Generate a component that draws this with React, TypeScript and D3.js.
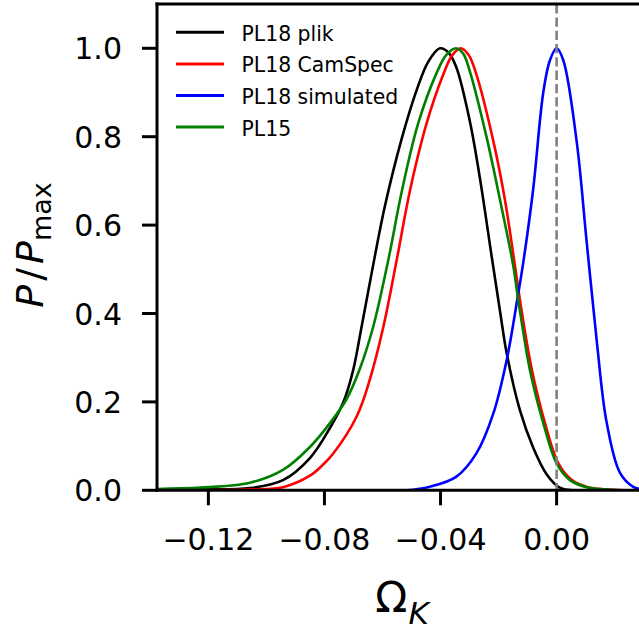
import React from "react";
import * as d3 from "d3";

type Pt = [number, number];

const plik: Pt[] = [
  [-0.1377, 0.001], [-0.1228, 0.002], [-0.1057, 0.005], [-0.0943, 0.023], [-0.085, 0.073],
  [-0.0781, 0.141], [-0.0735, 0.199], [-0.0701, 0.272], [-0.0672, 0.37], [-0.0632, 0.51],
  [-0.0592, 0.642], [-0.0534, 0.795], [-0.0482, 0.906], [-0.0442, 0.97], [-0.0402, 1.0],
  [-0.0372, 0.99], [-0.0345, 0.956], [-0.0299, 0.835], [-0.0264, 0.705], [-0.0224, 0.53],
  [-0.0195, 0.405], [-0.0172, 0.31], [-0.0126, 0.18], [-0.0081, 0.097], [-0.0034, 0.036],
  [0.0011, 0.006], [0.006, 0.0], [0.0308, 0.0],
];

const camspec: Pt[] = [
  [-0.1377, 0.0], [-0.1057, 0.002], [-0.0943, 0.007], [-0.085, 0.033], [-0.0805, 0.058],
  [-0.0771, 0.082], [-0.0689, 0.167], [-0.0643, 0.252], [-0.0597, 0.37], [-0.0551, 0.521],
  [-0.0505, 0.679], [-0.0448, 0.83], [-0.0391, 0.94], [-0.036, 0.984], [-0.0331, 1.0],
  [-0.0303, 0.985], [-0.0276, 0.94], [-0.0218, 0.79], [-0.0178, 0.657], [-0.0144, 0.51],
  [-0.0121, 0.408], [-0.0086, 0.275], [-0.004, 0.152], [0.0006, 0.061], [0.0053, 0.023],
  [0.0108, 0.007], [0.0166, 0.002], [0.0235, 0.0], [0.0308, 0.0],
];

const simulated: Pt[] = [
  [-0.1377, 0.0], [-0.0517, 0.0], [-0.0437, 0.008], [-0.0345, 0.031], [-0.0276, 0.084],
  [-0.0218, 0.174], [-0.0172, 0.295], [-0.0132, 0.446], [-0.0115, 0.515], [-0.0081, 0.68],
  [-0.0046, 0.9], [-0.0023, 0.973], [0.0, 1.0], [0.0023, 0.973], [0.0069, 0.79],
  [0.0103, 0.566], [0.0138, 0.34], [0.0172, 0.155], [0.0218, 0.04], [0.0264, 0.008],
  [0.0308, 0.001],
];

const pl15: Pt[] = [
  [-0.1377, 0.003], [-0.1228, 0.006], [-0.1057, 0.017], [-0.0943, 0.046], [-0.085, 0.098],
  [-0.0781, 0.152], [-0.0724, 0.206], [-0.0678, 0.275], [-0.0632, 0.37], [-0.058, 0.521],
  [-0.0534, 0.675], [-0.0477, 0.83], [-0.0413, 0.945], [-0.038, 0.985], [-0.0347, 1.0],
  [-0.0322, 0.988], [-0.0299, 0.948], [-0.0241, 0.798], [-0.0195, 0.657], [-0.015, 0.51],
  [-0.0132, 0.43], [-0.0092, 0.272], [-0.0046, 0.152], [0.0, 0.061], [0.0046, 0.023],
  [0.0103, 0.007], [0.0149, 0.003], [0.022, 0.0], [0.0308, 0.0],
];

const seriesNames = ["PL18 plik", "PL18 CamSpec", "PL18 simulated", "PL15"];
const seriesColors = ["#000000", "#ff0000", "#0000ff", "#008000"];
const seriesData = [plik, camspec, simulated, pl15];

const xTicks = [-0.12, -0.08, -0.04, 0.0];
const yTicks = [0.0, 0.2, 0.4, 0.6, 0.8, 1.0];
const xDomain: [number, number] = [-0.1377, 0.0308];
const yDomain: [number, number] = [0, 1.1];

const W = 639;
const H = 631;
const left = 157;
const right = 646;
const top = 4.1;
const bottom = 490.3;

const font = "'DejaVu Sans', sans-serif";

function fmtX(v: number) {
  const s = Math.abs(v).toFixed(2);
  return v < 0 ? "\u2212" + s : s;
}

export default function App() {
  const x = d3.scaleLinear().domain(xDomain).range([left, right]);
  const y = d3.scaleLinear().domain(yDomain).range([bottom, top]);
  const line = d3
    .line<Pt>()
    .x((d) => x(d[0]))
    .y((d) => y(Math.max(0, d[1])))
    .curve(d3.curveCatmullRom.alpha(0.5));

  const lw = 2.6;
  const legY0 = 32.3;
  const legDy = 31.6;

  return (
    <svg
      width={W}
      height={H}
      style={{ position: "absolute", left: 0, top: 0, background: "#fff" }}
      fontFamily={font}
    >
      <rect x={0} y={0} width={W} height={H} fill="#fff" />
      <defs>
        <clipPath id="plotclip">
          <rect x={left} y={top} width={right - left} height={bottom - top} />
        </clipPath>
      </defs>
      <g clipPath="url(#plotclip)">
        {seriesData.map((d, i) => (
          <path key={i} d={line(d) || ""} fill="none" stroke={seriesColors[i]} strokeWidth={lw} />
        ))}
        <line
          x1={x(0)}
          x2={x(0)}
          y1={top}
          y2={bottom}
          stroke="#808080"
          strokeWidth={lw}
          strokeDasharray="9.3,4"
        />
      </g>

      {/* spines */}
      <line x1={left} x2={left} y1={top - 1.5} y2={bottom + 1.5} stroke="#000" strokeWidth={3} />
      <line x1={left - 1.5} x2={W + 10} y1={bottom} y2={bottom} stroke="#000" strokeWidth={3} />
      <line x1={left - 1.5} x2={W + 10} y1={top} y2={top} stroke="#000" strokeWidth={3} />

      {/* x ticks */}
      {xTicks.map((t) => (
        <g key={"x" + t}>
          <line x1={x(t)} x2={x(t)} y1={bottom} y2={bottom + 15} stroke="#000" strokeWidth={3} />
          <text x={x(t)} y={550} fontSize={30} textAnchor="middle" fill="#000">
            {fmtX(t)}
          </text>
        </g>
      ))}
      {/* y ticks */}
      {yTicks.map((t) => (
        <g key={"y" + t}>
          <line x1={left - 15} x2={left} y1={y(t)} y2={y(t)} stroke="#000" strokeWidth={3} />
          <text x={122} y={y(t) + 11} fontSize={30} textAnchor="end" fill="#000">
            {t.toFixed(1)}
          </text>
        </g>
      ))}

      {/* x label */}
      <text x={402} y={612} fontSize={42} textAnchor="middle" fill="#000">
        <tspan>Ω</tspan>
        <tspan fontStyle="italic" fontSize={31} dy={12} dx={1}>K</tspan>
      </text>

      {/* y label */}
      <text
        transform="translate(43,245) rotate(-90)"
        x={0}
        y={0}
        fontSize={38}
        textAnchor="middle"
        fill="#000"
      >
        <tspan fontStyle="italic">P</tspan>
        <tspan dx={4}>/</tspan>
        <tspan fontStyle="italic" dx={4}>P</tspan>
        <tspan fontSize={27} dy={8}>max</tspan>
      </text>

      {/* legend */}
      {seriesNames.map((n, i) => (
        <g key={n}>
          <line
            x1={176}
            x2={224}
            y1={legY0 + i * legDy}
            y2={legY0 + i * legDy}
            stroke={seriesColors[i]}
            strokeWidth={lw + 0.4}
          />
          <text x={241.5} y={legY0 + i * legDy + 8.4} fontSize={20.4} fill="#000">
            {n}
          </text>
        </g>
      ))}
    </svg>
  );
}
